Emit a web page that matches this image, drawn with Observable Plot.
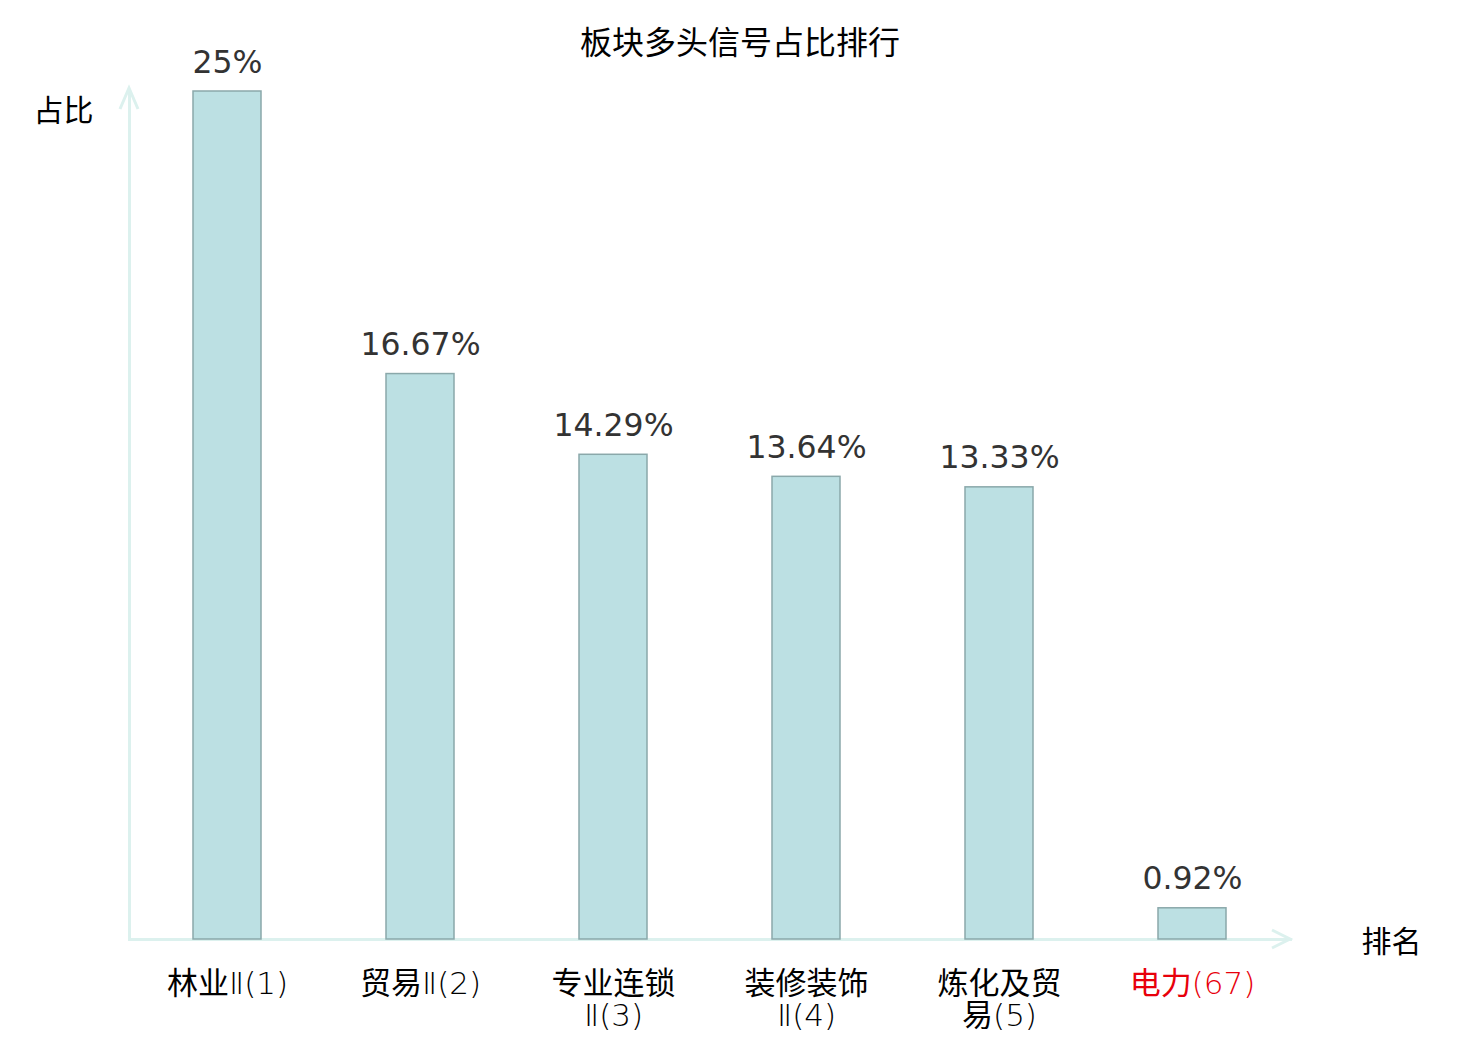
<!DOCTYPE html>
<html>
<head>
<meta charset="utf-8">
<script src="https://cdn.jsdelivr.net/npm/d3@7"></script>
<script src="https://cdn.jsdelivr.net/npm/@observablehq/plot@0.6"></script>
<style>
  body { margin: 0; background: #fff; }
  #wrap { position: relative; width: 1480px; height: 1040px; }
  #title { position: absolute; left: 0; top: 19px; width: 1480px; text-align: center;
           font-family: "Noto Sans CJK SC", "DejaVu Sans", sans-serif; font-size: 32px; color: #000; line-height: 42px; }
</style>
</head>
<body>
<div id="wrap"><div id="title">板块多头信号占比排行</div></div>
<script>
const categories = ["林业Ⅱ(1)", "贸易Ⅱ(2)", "专业连锁\nⅡ(3)", "装修装饰\nⅡ(4)", "炼化及贸\n易(5)", "电力(67)"];
const values = [25, 16.67, 14.29, 13.64, 13.33, 0.92];
const valueLabels = ["25%", "16.67%", "14.29%", "13.64%", "13.33%", "0.92%"];
const labelColors = ["#000", "#000", "#000", "#000", "#000", "#e8000b"];

const data = categories.map((c, i) => ({cat: c, v: values[i], lab: valueLabels[i], col: labelColors[i]}));

const axisColor = "#dcf1ee";

const plot = Plot.plot({
  width: 1480,
  height: 1040,
  marginLeft: 129,
  marginRight: 190,
  marginTop: 91,
  marginBottom: 101,
  style: {fontFamily: "'DejaVu Sans', 'Noto Sans CJK SC', sans-serif", background: "white"},
  x: {domain: categories, paddingInner: 0.65, paddingOuter: 0.325, axis: null},
  y: {domain: [0, 25], axis: null},
  color: {type: "identity"},
  marks: [
    Plot.frame({anchor: "left", stroke: axisColor, strokeWidth: 3}),
    Plot.frame({anchor: "bottom", stroke: axisColor, strokeWidth: 3}),
    Plot.barY(data, {x: "cat", y: "v", fill: "#bce0e3", stroke: "#8aa8aa", strokeWidth: 1.5}),
    Plot.text(data, {x: "cat", y: "v", text: "lab", lineAnchor: "bottom", dy: -19, fontSize: 31.5, fill: "#333"}),
    Plot.text(data, {x: "cat", text: "cat", frameAnchor: "bottom", lineAnchor: "top", dy: 31, fontSize: 31,
                     lineHeight: 1.05, fill: "col", fontFamily: "'DejaVu Sans Light', 'Noto Sans CJK SC', sans-serif"}),
    Plot.text(["占比"], {frameAnchor: "top-left", textAnchor: "middle", dx: -66, dy: 8, fontSize: 30, fill: "#000",
                        fontFamily: "'Noto Sans CJK SC', sans-serif"}),
    Plot.text(["排名"], {frameAnchor: "bottom-right", textAnchor: "middle", dx: 101, dy: 12, fontSize: 30, fill: "#000",
                        fontFamily: "'Noto Sans CJK SC', sans-serif"})
  ]
});

// arrowheads on the axes, positioned from the plot's scales
const xs = plot.scale("x"), ys = plot.scale("y");
const xLeft = xs.range[0], xRight = xs.range[1];
const yBottom = ys.range[0], yTop = ys.range[1];
const svg = d3.select(plot);
svg.append("polyline")
  .attr("points", `${xLeft - 9},${yTop + 18} ${xLeft},${yTop - 3} ${xLeft + 9},${yTop + 18}`)
  .attr("fill", "none").attr("stroke", axisColor).attr("stroke-width", 3);
svg.append("polyline")
  .attr("points", `${xRight - 18},${yBottom - 9} ${xRight},${yBottom} ${xRight - 18},${yBottom + 9}`)
  .attr("fill", "none").attr("stroke", axisColor).attr("stroke-width", 3);

document.getElementById("wrap").prepend(plot);
</script>
</body>
</html>
